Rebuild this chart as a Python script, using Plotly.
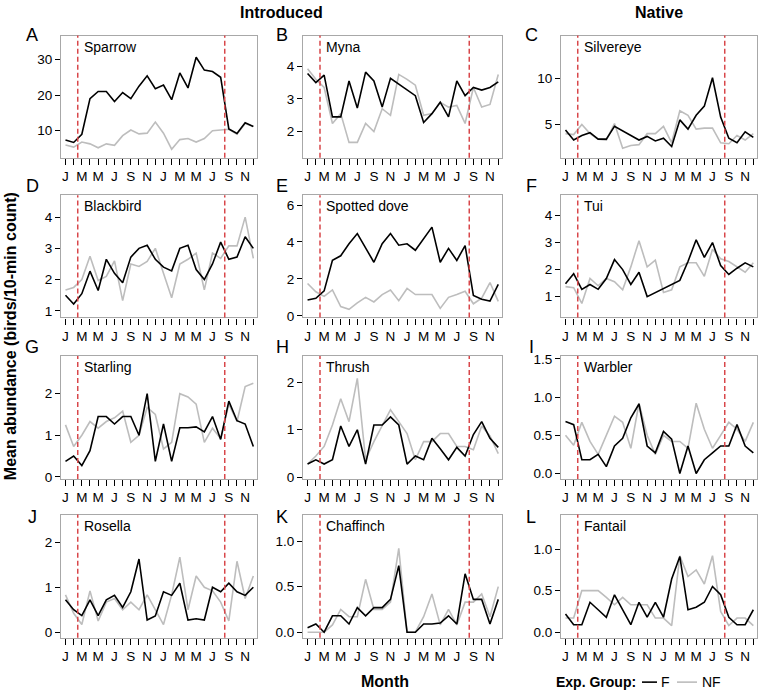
import plotly.graph_objects as go

# ---------------- data ----------------
month_letters = ["J", "F", "M", "A", "M", "J", "J", "A", "S", "O", "N", "D"] * 2
month_index = list(range(24))
tick_labels = [m if i % 2 == 0 else "" for i, m in enumerate(month_letters)]
treatment_bounds = [1.5, 19.5]

panel_letters = ["A", "B", "C", "D", "E", "F", "G", "H", "I", "J", "K", "L"]
species = ["Sparrow", "Myna", "Silvereye", "Blackbird", "Spotted dove", "Tui",
           "Starling", "Thrush", "Warbler", "Rosella", "Chaffinch", "Fantail"]
group_names = ["F", "NF"]

sparrow_F = [7.4, 6.7, 9.0, 19.0, 21.0, 21.0, 18.2, 20.7, 19.0, 22.5, 25.4, 21.8, 22.8, 18.7, 26.2, 22.0, 30.6, 27.0, 26.6, 25.0, 10.5, 9.2, 12.2, 11.2]
sparrow_NF = [6.0, 5.4, 6.8, 6.3, 5.2, 6.3, 5.9, 8.6, 10.2, 9.1, 9.3, 12.4, 9.3, 4.8, 7.5, 7.8, 6.8, 7.8, 10.0, 10.2, 10.4, 9.0, 12.0, 11.2]
myna_F = [3.78, 3.5, 3.73, 2.45, 2.45, 3.55, 2.72, 3.82, 3.55, 2.75, 3.63, 3.45, 3.28, 3.1, 2.28, 2.55, 2.9, 2.45, 3.55, 3.1, 3.35, 3.27, 3.35, 3.52]
myna_NF = [3.92, 3.6, 3.35, 2.25, 2.55, 1.67, 1.67, 2.25, 2.0, 2.7, 2.5, 3.75, 3.6, 3.42, 2.5, 2.55, 2.9, 2.75, 2.8, 2.25, 3.35, 2.75, 2.83, 3.75]
silvereye_F = [4.4, 3.3, 3.8, 4.1, 3.4, 3.4, 4.8, 4.3, 3.8, 3.3, 3.7, 3.2, 3.5, 2.6, 5.5, 4.5, 6.0, 7.0, 10.1, 5.8, 3.5, 3.0, 4.2, 3.6]
silvereye_NF = [4.0, 3.9, 5.0, 4.0, 3.4, 3.3, 5.1, 2.4, 2.7, 2.8, 4.0, 4.0, 4.8, 3.0, 6.5, 6.0, 4.5, 4.6, 4.6, 3.0, 2.9, 3.8, 3.3, 4.0]
blackbird_F = [1.5, 1.22, 1.55, 2.27, 1.65, 2.65, 2.2, 1.9, 2.72, 3.0, 3.1, 2.65, 2.4, 2.28, 3.0, 3.1, 2.32, 2.0, 2.5, 3.2, 2.65, 2.72, 3.37, 3.0]
blackbird_NF = [1.67, 1.75, 2.0, 2.75, 1.97, 2.1, 2.6, 1.33, 2.5, 2.42, 2.58, 3.0, 2.2, 1.42, 2.5, 2.65, 2.85, 1.67, 2.85, 2.68, 3.08, 3.08, 4.0, 2.68]
dove_F = [0.85, 0.95, 1.35, 3.0, 3.25, 3.9, 4.45, 3.7, 2.9, 3.9, 4.45, 3.82, 3.9, 3.55, 4.2, 4.8, 2.9, 3.65, 3.0, 3.8, 1.1, 0.9, 0.8, 1.7]
dove_NF = [1.75, 1.3, 1.05, 1.4, 0.5, 0.35, 0.7, 1.0, 0.75, 1.15, 1.4, 0.82, 1.48, 1.15, 1.15, 1.15, 0.4, 1.0, 1.15, 1.33, 0.65, 0.95, 1.8, 0.78]
tui_F = [1.48, 1.85, 1.27, 1.45, 1.27, 1.67, 2.37, 2.0, 1.45, 1.9, 1.0, 1.15, 1.3, 1.45, 1.6, 2.3, 3.1, 2.45, 3.0, 2.15, 1.82, 2.05, 2.25, 2.1]
tui_NF = [1.37, 1.33, 0.75, 1.67, 1.4, 1.67, 1.55, 1.25, 2.1, 3.07, 2.1, 2.35, 1.15, 1.25, 2.1, 2.25, 2.25, 1.75, 2.75, 2.4, 2.3, 2.1, 1.9, 2.25]
starling_F = [0.37, 0.5, 0.27, 0.63, 1.45, 1.45, 1.27, 1.45, 1.45, 1.0, 2.0, 0.37, 1.27, 0.37, 1.18, 1.18, 1.2, 1.08, 1.45, 0.9, 1.82, 1.35, 1.27, 0.73]
starling_NF = [1.25, 0.73, 1.0, 1.33, 1.17, 1.33, 1.42, 1.58, 0.83, 1.0, 1.67, 1.5, 0.67, 0.83, 2.0, 1.92, 1.75, 0.83, 1.17, 0.92, 1.75, 1.33, 2.17, 2.25]
thrush_F = [0.28, 0.37, 0.28, 0.37, 1.08, 0.65, 1.0, 0.28, 1.1, 1.1, 1.27, 1.1, 0.28, 0.45, 0.37, 0.82, 0.6, 0.37, 0.63, 0.45, 0.9, 1.17, 0.82, 0.63]
thrush_NF = [0.28, 0.45, 0.65, 1.1, 1.65, 1.17, 2.08, 0.37, 0.75, 1.1, 1.42, 1.17, 0.92, 0.37, 0.75, 0.75, 0.92, 0.92, 0.65, 0.65, 0.58, 1.08, 0.87, 0.5]
warbler_F = [0.68, 0.64, 0.18, 0.18, 0.25, 0.09, 0.36, 0.46, 0.73, 0.91, 0.36, 0.27, 0.55, 0.45, 0.0, 0.36, 0.0, 0.18, 0.27, 0.36, 0.36, 0.64, 0.36, 0.27]
warbler_NF = [0.5, 0.37, 0.67, 0.42, 0.25, 0.5, 0.75, 0.67, 0.33, 0.92, 0.5, 0.25, 0.5, 0.42, 0.42, 0.33, 0.92, 0.58, 0.33, 0.5, 0.67, 0.58, 0.42, 0.67]
rosella_F = [0.72, 0.5, 0.37, 0.72, 0.37, 0.72, 0.82, 0.55, 0.9, 1.63, 0.27, 0.36, 0.9, 0.82, 1.09, 0.27, 0.3, 0.27, 1.0, 0.9, 1.09, 0.9, 0.82, 1.0]
rosella_NF = [0.83, 0.42, 0.17, 0.92, 0.25, 0.67, 0.75, 0.5, 0.67, 0.5, 0.83, 0.5, 0.17, 0.83, 1.67, 0.5, 1.25, 1.0, 0.92, 0.67, 0.25, 1.58, 0.75, 1.25]
chaffinch_F = [0.05, 0.09, 0.0, 0.18, 0.18, 0.09, 0.27, 0.18, 0.27, 0.27, 0.36, 0.73, 0.0, 0.0, 0.09, 0.09, 0.1, 0.18, 0.09, 0.64, 0.36, 0.36, 0.09, 0.36]
chaffinch_NF = [0.0, 0.0, 0.0, 0.08, 0.25, 0.17, 0.17, 0.58, 0.25, 0.25, 0.33, 0.92, 0.0, 0.0, 0.17, 0.42, 0.08, 0.25, 0.08, 0.33, 0.33, 0.42, 0.17, 0.5]
fantail_F = [0.22, 0.09, 0.09, 0.36, 0.27, 0.18, 0.45, 0.27, 0.09, 0.36, 0.18, 0.36, 0.18, 0.64, 0.91, 0.27, 0.3, 0.36, 0.55, 0.45, 0.18, 0.09, 0.09, 0.27]
fantail_NF = [0.17, 0.17, 0.5, 0.5, 0.5, 0.42, 0.33, 0.42, 0.33, 0.33, 0.33, 0.17, 0.17, 0.08, 0.92, 0.67, 0.75, 0.58, 0.92, 0.25, 0.08, 0.17, 0.17, 0.08]

series_F = [sparrow_F, myna_F, silvereye_F, blackbird_F, dove_F, tui_F,
            starling_F, thrush_F, warbler_F, rosella_F, chaffinch_F, fantail_F]
series_NF = [sparrow_NF, myna_NF, silvereye_NF, blackbird_NF, dove_NF, tui_NF,
             starling_NF, thrush_NF, warbler_NF, rosella_NF, chaffinch_NF, fantail_NF]

y_ticks = [[10, 20, 30], [2, 3, 4], [5, 10], [1, 2, 3, 4], [0, 2, 4, 6], [1, 2, 3, 4],
           [0, 1, 2], [0, 1, 2], [0, 0.5, 1.0, 1.5], [0, 1, 2], [0, 0.5, 1.0], [0, 0.5, 1.0]]
y_ranges = [[2.4, 36.7], [1.2, 4.94], [1.37, 14.7], [0.79, 4.7], [-0.09, 6.53], [0.23, 4.75],
            [-0.055, 2.91], [-0.035, 2.55], [-0.073, 1.54], [-0.125, 2.62], [-0.061, 1.29], [-0.067, 1.415]]
y_fmt = ["", "", "", "", "", "", "", "", ".1f", "", ".1f", ".1f"]

# ---------------- layout geometry (pixels) ----------------
W, H = 760, 697
col_px = [(61, 257), (303, 502), (561, 757)]
row_px = [(32, 156), (194, 318), (357, 482), (518, 643)]
letter_x = [32, 282, 531]
letter_y = [31, 185, 348, 520]
FONT = "Liberation Sans, Arial, Helvetica, sans-serif"
GREY = "#bdbdbd"
RED = "#d8474a"


def px(xp):
    return xp / W


def py(yp):
    return 1 - yp / H


fig = go.Figure()
layout = dict(
    width=W, height=H, margin=dict(l=0, r=0, t=0, b=0),
    paper_bgcolor="white", plot_bgcolor="white",
    font=dict(family=FONT, size=13.5, color="black"),
    showlegend=False,
)
shapes = []
annotations = []

for k in range(12):
    r, c = divmod(k, 3)
    ax = "" if k == 0 else str(k + 1)
    x0, x1 = col_px[c]
    y0, y1 = row_px[r]
    layout["xaxis" + ax] = dict(
        domain=[px(x0), px(x1)], anchor="y" + ax, range=[-0.55, 23.45],
        tickmode="array", tickvals=month_index, ticktext=tick_labels,
        ticks="outside", ticklen=6, tickwidth=1.3, tickcolor="black",
        showline=True, mirror=True, linecolor="#a8a8a8", linewidth=1.2,
        showgrid=False, zeroline=False, tickfont=dict(size=13.5),
    )
    layout["yaxis" + ax] = dict(
        domain=[py(y1), py(y0)], anchor="x" + ax, range=y_ranges[k],
        tickmode="array", tickvals=y_ticks[k], tickformat=y_fmt[k],
        ticks="outside", ticklen=5, tickwidth=1.3, tickcolor="black",
        showline=True, mirror=True, linecolor="#a8a8a8", linewidth=1.2,
        showgrid=False, zeroline=False, tickfont=dict(size=13.5),
    )
    for xv in treatment_bounds:
        shapes.append(dict(type="line", xref="x" + ax, yref="y" + ax + " domain",
                           x0=xv, x1=xv, y0=0, y1=1,
                           line=dict(color=RED, width=1.5, dash="5px,3px")))
    annotations.append(dict(text=species[k], xref="x" + ax, yref="y" + ax + " domain",
                            x=treatment_bounds[0], y=1, xanchor="left", yanchor="top",
                            xshift=4, yshift=-1, showarrow=False, font=dict(size=14)))
    annotations.append(dict(text=panel_letters[k], xref="paper", yref="paper",
                            x=px(letter_x[c]), y=py(letter_y[r]),
                            xanchor="center", yanchor="middle", showarrow=False,
                            font=dict(size=18)))

for k in range(12):
    ax = "" if k == 0 else str(k + 1)
    fig.add_trace(go.Scatter(x=month_index, y=series_NF[k], mode="lines",
                             line=dict(color=GREY, width=1.6), name=group_names[1],
                             xaxis="x" + ax, yaxis="y" + ax, hoverinfo="skip"))
for k in range(12):
    ax = "" if k == 0 else str(k + 1)
    fig.add_trace(go.Scatter(x=month_index, y=series_F[k], mode="lines",
                             line=dict(color="black", width=1.6), name=group_names[0],
                             xaxis="x" + ax, yaxis="y" + ax, hoverinfo="skip"))

# titles
annotations += [
    dict(text="<b>Introduced</b>", xref="paper", yref="paper", x=px(281), y=py(9),
         xanchor="center", yanchor="middle", showarrow=False, font=dict(size=16)),
    dict(text="<b>Native</b>", xref="paper", yref="paper", x=px(659), y=py(9),
         xanchor="center", yanchor="middle", showarrow=False, font=dict(size=16)),
    dict(text="<b>Mean abundance (birds/10-min count)</b>", xref="paper", yref="paper",
         x=px(10), y=py(337), xanchor="center", yanchor="middle", textangle=-90,
         showarrow=False, font=dict(size=16)),
    dict(text="<b>Month</b>", xref="paper", yref="paper", x=px(385), y=py(687),
         xanchor="center", yanchor="middle", showarrow=False, font=dict(size=16)),
]

# legend (drawn as key)
leg_y = 688
annotations += [
    dict(text="<b>Exp. Group:</b>", xref="paper", yref="paper", x=px(554), y=py(leg_y),
         xanchor="left", yanchor="middle", showarrow=False, font=dict(size=14)),
    dict(text=group_names[0], xref="paper", yref="paper", x=px(659), y=py(leg_y),
         xanchor="left", yanchor="middle", showarrow=False, font=dict(size=14)),
    dict(text=group_names[1], xref="paper", yref="paper", x=px(700), y=py(leg_y),
         xanchor="left", yanchor="middle", showarrow=False, font=dict(size=14)),
]
shapes += [
    dict(type="line", xref="paper", yref="paper", x0=px(642), x1=px(657),
         y0=py(leg_y), y1=py(leg_y), line=dict(color="black", width=1.6)),
    dict(type="line", xref="paper", yref="paper", x0=px(677), x1=px(697),
         y0=py(leg_y), y1=py(leg_y), line=dict(color=GREY, width=1.6)),
]

layout["shapes"] = shapes
layout["annotations"] = annotations
fig.update_layout(**layout)
fig.write_html("out.html", config={"displayModeBar": False},
               post_script="document.body.style.margin='0px';document.body.style.overflow='hidden';")
